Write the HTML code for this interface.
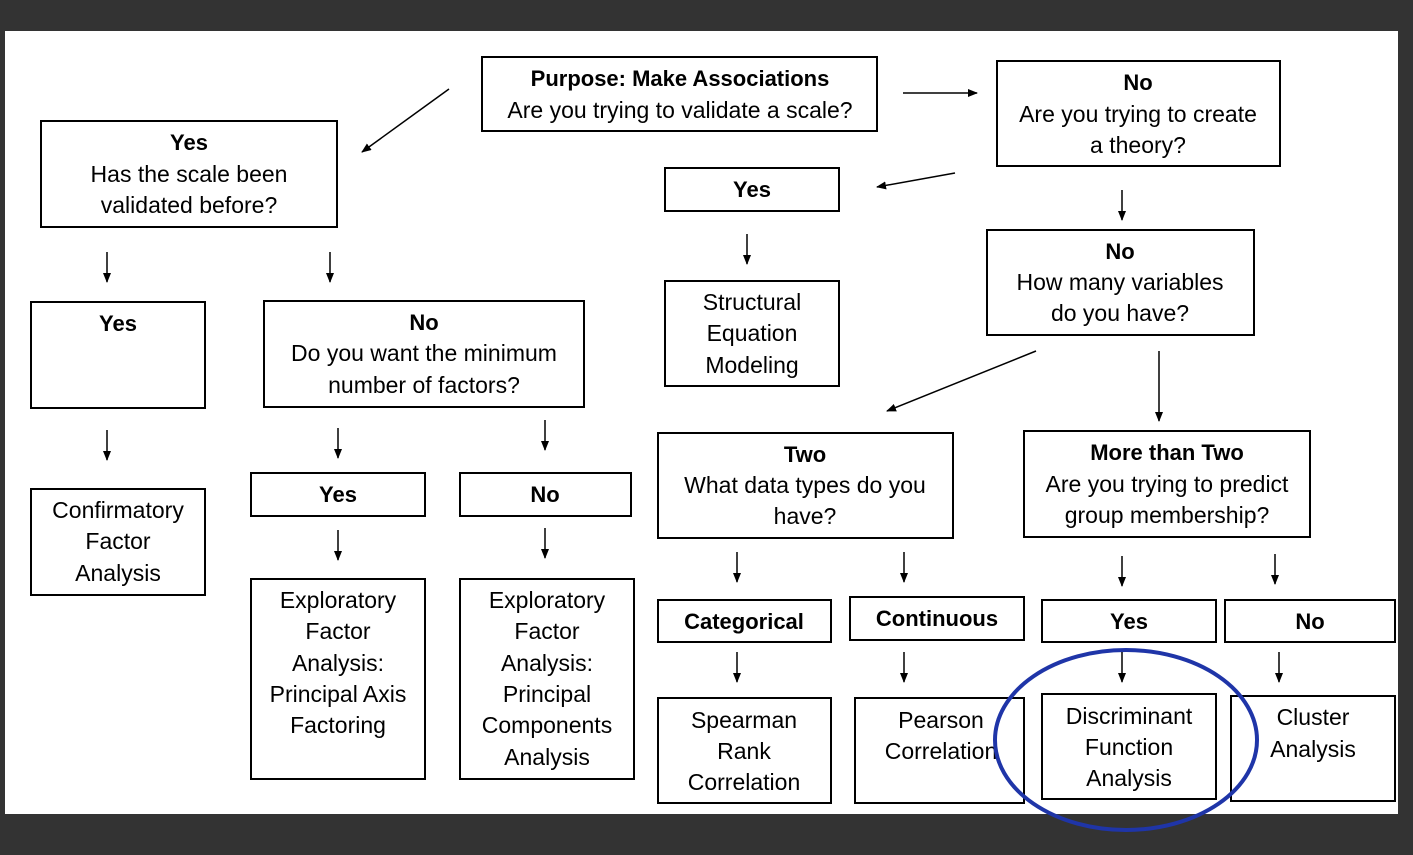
<!DOCTYPE html>
<html><head><meta charset="utf-8"><style>
html,body{margin:0;padding:0;background:#333;}
svg{display:block}
text{font-family:"Liberation Sans",sans-serif;font-size:23px;fill:#000;text-anchor:middle;}
.b{font-weight:bold;font-size:22px}
rect{fill:#fff;stroke:#000;stroke-width:2}
line{stroke:#000;stroke-width:1.5;marker-end:url(#a)}
</style></head><body>
<svg width="1413" height="855" viewBox="0 0 1413 855">
<defs><marker id="a" markerWidth="10" markerHeight="8" refX="9" refY="4" orient="auto" markerUnits="userSpaceOnUse"><path d="M0,0 L10,4 L0,8 z" fill="#000"/></marker></defs>
<rect x="0" y="0" width="1413" height="855" style="fill:#333;stroke:none"/>
<rect x="5" y="31" width="1393" height="783" style="fill:#fff;stroke:none"/>

<rect x="482" y="57" width="395" height="74"/>
<text x="680" y="86" class="b">Purpose: Make Associations</text>
<text x="680" y="118">Are you trying to validate a scale?</text>

<rect x="997" y="61" width="283" height="105"/>
<text x="1138" y="90" class="b">No</text>
<text x="1138" y="122">Are you trying to create</text>
<text x="1138" y="153">a theory?</text>

<rect x="41" y="121" width="296" height="106"/>
<text x="189" y="150" class="b">Yes</text>
<text x="189" y="182">Has the scale been</text>
<text x="189" y="213">validated before?</text>

<rect x="665" y="168" width="174" height="43"/>
<text x="752" y="197" class="b">Yes</text>

<rect x="665" y="281" width="174" height="105"/>
<text x="752" y="310">Structural</text>
<text x="752" y="341">Equation</text>
<text x="752" y="373">Modeling</text>

<rect x="987" y="230" width="267" height="105"/>
<text x="1120" y="259" class="b">No</text>
<text x="1120" y="290">How many variables</text>
<text x="1120" y="321">do you have?</text>

<rect x="31" y="302" width="174" height="106"/>
<text x="118" y="331" class="b">Yes</text>

<rect x="264" y="301" width="320" height="106"/>
<text x="424" y="330" class="b">No</text>
<text x="424" y="361">Do you want the minimum</text>
<text x="424" y="393">number of factors?</text>

<rect x="658" y="433" width="295" height="105"/>
<text x="805" y="462" class="b">Two</text>
<text x="805" y="493">What data types do you</text>
<text x="805" y="524">have?</text>

<rect x="1024" y="431" width="286" height="106"/>
<text x="1167" y="460" class="b">More than Two</text>
<text x="1167" y="492">Are you trying to predict</text>
<text x="1167" y="523">group membership?</text>

<rect x="31" y="489" width="174" height="106"/>
<text x="118" y="518">Confirmatory</text>
<text x="118" y="549">Factor</text>
<text x="118" y="581">Analysis</text>

<rect x="251" y="473" width="174" height="43"/>
<text x="338" y="502" class="b">Yes</text>
<rect x="460" y="473" width="171" height="43"/>
<text x="545" y="502" class="b">No</text>

<rect x="251" y="579" width="174" height="200"/>
<text x="338" y="608">Exploratory</text>
<text x="338" y="639">Factor</text>
<text x="338" y="671">Analysis:</text>
<text x="338" y="702">Principal Axis</text>
<text x="338" y="733">Factoring</text>

<rect x="460" y="579" width="174" height="200"/>
<text x="547" y="608">Exploratory</text>
<text x="547" y="639">Factor</text>
<text x="547" y="671">Analysis:</text>
<text x="547" y="702">Principal</text>
<text x="547" y="733">Components</text>
<text x="547" y="765">Analysis</text>

<rect x="658" y="600" width="173" height="42"/>
<text x="744" y="629" class="b">Categorical</text>
<rect x="850" y="597" width="174" height="43"/>
<text x="937" y="626" class="b">Continuous</text>
<rect x="1042" y="600" width="174" height="42"/>
<text x="1129" y="629" class="b">Yes</text>
<rect x="1225" y="600" width="170" height="42"/>
<text x="1310" y="629" class="b">No</text>

<rect x="658" y="698" width="173" height="105"/>
<text x="744" y="728">Spearman</text>
<text x="744" y="759">Rank</text>
<text x="744" y="790">Correlation</text>

<rect x="855" y="698" width="169" height="105"/>
<text x="941" y="728">Pearson</text>
<text x="941" y="759">Correlation</text>

<rect x="1042" y="694" width="174" height="105"/>
<text x="1129" y="724">Discriminant</text>
<text x="1129" y="755">Function</text>
<text x="1129" y="786">Analysis</text>

<rect x="1231" y="696" width="164" height="105"/>
<text x="1313" y="725">Cluster</text>
<text x="1313" y="757">Analysis</text>

<ellipse cx="1126" cy="740" rx="131" ry="90" fill="none" stroke="#1f35a8" stroke-width="4"/>

<line x1="449" y1="89" x2="362" y2="152"/>
<line x1="903" y1="93" x2="977" y2="93"/>
<line x1="955" y1="173" x2="877" y2="187"/>
<line x1="1122" y1="190" x2="1122" y2="220"/>
<line x1="107" y1="252" x2="107" y2="282"/>
<line x1="330" y1="252" x2="330" y2="282"/>
<line x1="747" y1="234" x2="747" y2="264"/>
<line x1="1036" y1="351" x2="887" y2="411"/>
<line x1="1159" y1="351" x2="1159" y2="421"/>
<line x1="107" y1="430" x2="107" y2="460"/>
<line x1="338" y1="428" x2="338" y2="458"/>
<line x1="545" y1="420" x2="545" y2="450"/>
<line x1="338" y1="530" x2="338" y2="560"/>
<line x1="545" y1="528" x2="545" y2="558"/>
<line x1="737" y1="552" x2="737" y2="582"/>
<line x1="904" y1="552" x2="904" y2="582"/>
<line x1="1122" y1="556" x2="1122" y2="586"/>
<line x1="1275" y1="554" x2="1275" y2="584"/>
<line x1="737" y1="652" x2="737" y2="682"/>
<line x1="904" y1="652" x2="904" y2="682"/>
<line x1="1122" y1="652" x2="1122" y2="682"/>
<line x1="1279" y1="652" x2="1279" y2="682"/>
</svg>
</body></html>
